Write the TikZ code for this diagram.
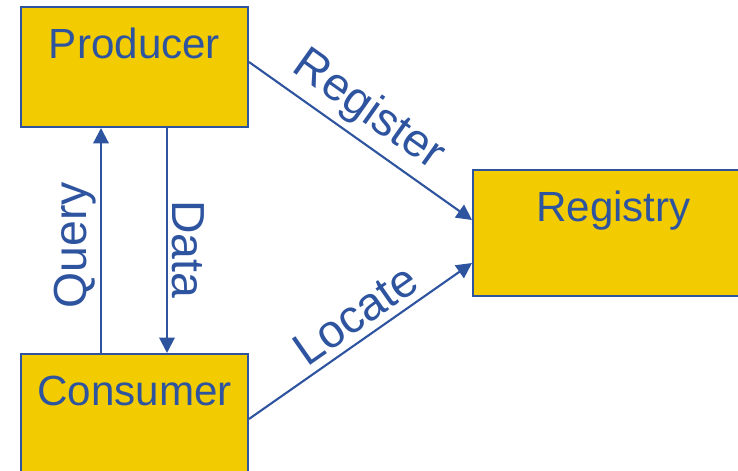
\documentclass[tikz,border=0pt]{standalone}
\usepackage{fontspec}
\setmainfont{Liberation Sans}
\usepackage{tikz}
\usetikzlibrary{arrows.meta, calc, positioning}
\definecolor{boxyellow}{RGB}{242,204,0}
\definecolor{edgeblue}{HTML}{2E54A0}

\begin{document}
\begin{tikzpicture}[
    box/.style={rectangle, draw=edgeblue, fill=boxyellow, line width=1.4pt, inner sep=0pt,
        minimum width=5.675cm, text height=1.29cm, text depth=1.71cm, text=edgeblue,
        font=\fontsize{30}{36}\selectfont},
    arrow/.style={-{Triangle[length=11pt, width=11pt]}, line width=1.5pt, draw=edgeblue},
    lbl/.style={text=edgeblue, inner sep=2.5pt, font=\fontsize{33}{40}\selectfont}
]
    \useasboundingbox (0,0) rectangle (18.45,-11.75);
    \clip (0,0) rectangle (18.45,-11.75);

    % producer
    \node[box] (producer) at (3.3625,-1.675) {Producer};

    % consumer
    \node[box, below=5.625cm of producer] (consumer) {Consumer};

    % registry
    \node[box, minimum width=7.025cm, text depth=1.86cm] (registry) at (15.3375,-5.825) {Registry};

    % query / data
    \draw[arrow] ([xshift=-0.8375cm]consumer.north) -- node[lbl, pos=0.48, sloped, above] {Query} ([xshift=-0.8375cm]producer.south);
    \draw[arrow] ([xshift=0.8125cm]producer.south) -- node[lbl, pos=0.54, sloped, above] {Data} ([xshift=0.8125cm]consumer.north);

    % register / locate
    \draw[arrow] ([yshift=0.125cm]producer.east) -- node[lbl, inner sep=4.5pt, pos=0.46, sloped, above] {Register} ([yshift=0.325cm]registry.west);
    \draw[arrow] ([yshift=-0.125cm]consumer.east) -- node[lbl, inner sep=5.5pt, pos=0.54, sloped, above] {Locate} ([yshift=-0.75cm]registry.west);
\end{tikzpicture}
\end{document}
